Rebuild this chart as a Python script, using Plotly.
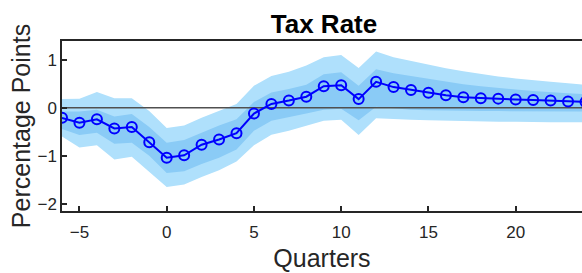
import plotly.graph_objects as go

quarters = list(range(-6, 25))

irf = [-0.21, -0.31, -0.24, -0.43, -0.40, -0.72, -1.04, -0.99, -0.77, -0.66, -0.53,
       -0.12, 0.08, 0.15, 0.23, 0.45, 0.47, 0.18, 0.54, 0.43, 0.37, 0.31, 0.26, 0.22,
       0.20, 0.19, 0.17, 0.16, 0.15, 0.13, 0.12]

outer_upper = [0.18, 0.19, 0.33, 0.20, 0.20, -0.07, -0.42, -0.37, -0.21, -0.07, 0.08,
               0.46, 0.66, 0.75, 0.88, 1.05, 1.10, 0.83, 1.17, 1.05, 0.97, 0.90, 0.82, 0.76,
               0.70, 0.65, 0.61, 0.57, 0.54, 0.51, 0.48]

inner_upper = [-0.08, -0.08, -0.04, -0.18, -0.13, -0.40, -0.73, -0.67, -0.52, -0.37, -0.24,
               0.12, 0.32, 0.39, 0.48, 0.70, 0.74, 0.46, 0.80, 0.72, 0.66, 0.60, 0.54, 0.49,
               0.45, 0.41, 0.38, 0.35, 0.32, 0.30, 0.28]

inner_lower = [-0.44, -0.57, -0.52, -0.75, -0.73, -1.00, -1.36, -1.32, -1.17, -1.04, -0.87,
               -0.48, -0.27, -0.20, -0.12, -0.04, -0.02, -0.26, 0.02, -0.01, -0.04, -0.05, -0.06,
               -0.06, -0.07, -0.07, -0.07, -0.08, -0.08, -0.08, -0.08]

outer_lower = [-0.60, -0.83, -0.78, -1.08, -1.02, -1.33, -1.65, -1.60, -1.44, -1.30, -1.12,
               -0.78, -0.56, -0.48, -0.38, -0.27, -0.25, -0.57, -0.22, -0.24, -0.25, -0.26, -0.27,
               -0.28, -0.28, -0.29, -0.29, -0.30, -0.30, -0.30, -0.30]

x_ticks = [-5, 0, 5, 10, 15, 20]
y_ticks = [-2, -1, 0, 1]

OUTER = "#afe0fc"
INNER = "#8acbf6"
AX = "#262626"
FONT = "Liberation Sans, Arial, sans-serif"

W, H = 582, 273

fig = go.Figure()

def band(lo, hi, color):
    fig.add_trace(go.Scatter(x=quarters, y=hi, mode="lines", line=dict(width=0, color=color),
                             hoverinfo="skip", showlegend=False))
    fig.add_trace(go.Scatter(x=quarters, y=lo, mode="lines", line=dict(width=0, color=color),
                             fill="tonexty", fillcolor=color, hoverinfo="skip", showlegend=False))

band(outer_lower, outer_upper, OUTER)
band(inner_lower, inner_upper, INNER)

# zero reference line
fig.add_trace(go.Scatter(x=[quarters[0], quarters[-1]], y=[0, 0], mode="lines",
                         line=dict(color="#505050", width=1.5), showlegend=False, hoverinfo="skip"))

fig.add_trace(go.Scatter(x=quarters, y=irf, mode="lines+markers",
                         line=dict(color="#0000ff", width=2),
                         marker=dict(symbol="circle-open", size=10, color="#0000ff",
                                     line=dict(width=2, color="#0000ff")),
                         showlegend=False))

fig.update_layout(
    width=W, height=H,
    margin=dict(l=62, r=0, t=41, b=62, autoexpand=False),
    paper_bgcolor="white", plot_bgcolor="white",
    font=dict(family=FONT, color=AX, size=17),
    title=dict(text="<b>Tax Rate</b>", x=324 / W, xref="container", xanchor="center",
               y=1 - 24 / H, yref="container", yanchor="middle",
               font=dict(size=26, color="black", family=FONT)),
)

fig.update_xaxes(range=[-6, 23.8], tickvals=x_ticks, ticks="inside", ticklen=5,
                 tickwidth=1.5, tickcolor=AX, showline=True, linecolor=AX, linewidth=1.5,
                 mirror=True, showgrid=False, zeroline=False, automargin=False,
                 tickfont=dict(size=17, color=AX), ticklabelstandoff=5,
                 title=dict(text="Quarters", font=dict(size=25, color=AX), standoff=8))
fig.update_yaxes(range=[-2.15, 1.39], tickvals=y_ticks, ticks="inside", ticklen=5,
                 tickwidth=1.5, tickcolor=AX, showline=True, linecolor=AX, linewidth=1.5,
                 showgrid=False, zeroline=False, automargin=False,
                 tickfont=dict(size=17, color=AX),
                 title=dict(text="Percentage Points", font=dict(size=25, color=AX), standoff=0))

fig.write_html("out.html", config={"displayModeBar": False},
               post_script="document.body.style.margin='0';document.body.style.overflow='hidden';")
